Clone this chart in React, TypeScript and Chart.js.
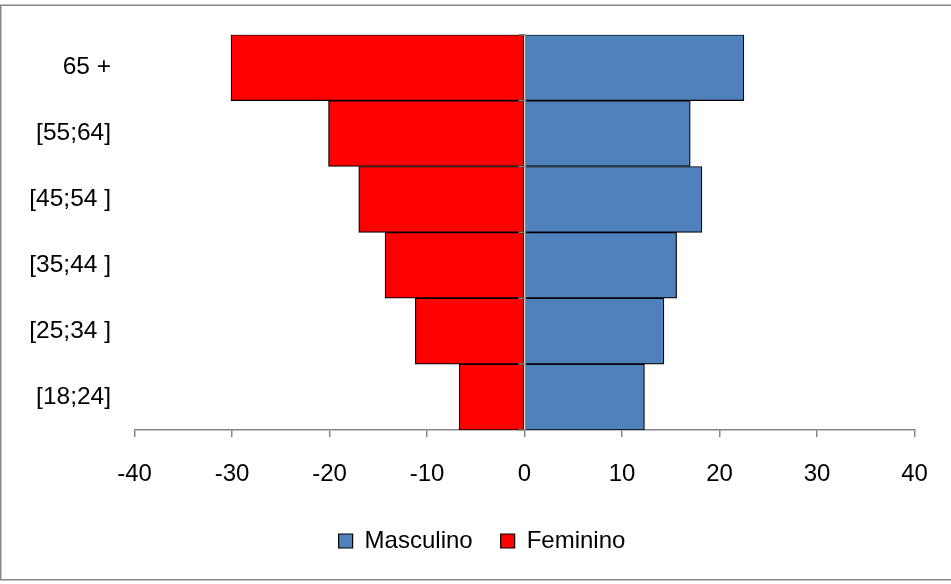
import React, { useEffect, useRef } from "react";
import { Chart, registerables } from "chart.js";

Chart.register(...registerables);

const ageGroups = ["65 +", "[55;64]", "[45;54 ]", "[35;44 ]", "[25;34 ]", "[18;24]"];
const masculinoValues = [22.5, 17.0, 18.2, 15.6, 14.3, 12.3];
const femininoValues = [-30.1, -20.1, -17.0, -14.3, -11.2, -6.7];
const xMin = -40;
const xMax = 40;
const xStep = 10;

const FONT = "'Liberation Sans', Arial, sans-serif";
const AXIS_GRAY = "#868686";

const frameAndZeroAxis = {
  id: "frameAndZeroAxis",
  beforeDraw(chart: any) {
    const ctx = chart.ctx;
    ctx.save();
    ctx.fillStyle = "#ffffff";
    ctx.fillRect(0, 0, chart.width, chart.height);
    ctx.strokeStyle = AXIS_GRAY;
    ctx.lineWidth = 1.5;
    ctx.strokeRect(0.75, 5.25, chart.width + 2, chart.height - 9.5);
    ctx.restore();
  },
  afterDatasetsDraw(chart: any) {
    const ctx = chart.ctx;
    const xs = chart.scales.x;
    const ys = chart.scales.y;
    const area = chart.chartArea;
    const x0 = Math.round(xs.getPixelForValue(0)) + 0.5;
    ctx.save();
    ctx.strokeStyle = AXIS_GRAY;
    ctx.lineWidth = 1.5;
    ctx.beginPath();
    ctx.moveTo(x0, area.top);
    ctx.lineTo(x0, area.bottom);
    for (let i = 0; i <= ageGroups.length; i++) {
      const y = ys.getPixelForValue(i - 0.5);
      ctx.moveTo(x0 - 7, y);
      ctx.lineTo(x0, y);
    }
    ctx.stroke();
    ctx.restore();
  },
};

export default function App() {
  const canvasRef = useRef<HTMLCanvasElement | null>(null);

  useEffect(() => {
    document.body.style.margin = "0";
    const canvas = canvasRef.current;
    if (!canvas) return;
    Chart.defaults.color = "#000000";
    const chart = new Chart(canvas, {
      type: "bar",
      data: {
        labels: ageGroups,
        datasets: [
          {
            label: "Masculino",
            data: masculinoValues,
            backgroundColor: "#4F81BD",
            borderColor: "#000000",
            borderWidth: 1.2,
            borderSkipped: false,
            barPercentage: 1,
            categoryPercentage: 1,
          },
          {
            label: "Feminino",
            data: femininoValues,
            backgroundColor: "#FF0000",
            borderColor: "#000000",
            borderWidth: 1.2,
            borderSkipped: false,
            barPercentage: 1,
            categoryPercentage: 1,
          },
        ],
      },
      options: {
        indexAxis: "y",
        responsive: false,
        animation: false,
        layout: { padding: { left: 13, right: 0, top: 34.7, bottom: 21 } },
        scales: {
          x: {
            stacked: true,
            min: xMin,
            max: xMax,
            ticks: {
              stepSize: xStep,
              font: { family: FONT, size: 24 },
              color: "#000",
              padding: 22.5,
            },
            grid: {
              drawOnChartArea: false,
              drawTicks: true,
              tickLength: 7,
              color: AXIS_GRAY,
              lineWidth: 1.5,
            },
            border: { display: true, color: AXIS_GRAY, width: 1.5 },
            afterFit: (s: any) => {
              s.height = 71;
            },
          },
          y: {
            stacked: true,
            ticks: {
              font: { family: FONT, size: 24.5 },
              color: "#000",
              padding: 23.5,
            },
            grid: { display: false, drawTicks: false },
            border: { display: false },
            afterFit: (s: any) => {
              s.width = 121.5;
              s.paddingTop = 0;
              s.paddingBottom = 0;
            },
          },
          yRightSpacer: {
            axis: "y",
            type: "category",
            position: "right",
            display: true,
            ticks: { display: false },
            grid: { display: false, drawTicks: false },
            border: { display: false },
            afterFit: (s: any) => {
              s.width = 36.5;
              s.paddingTop = 0;
              s.paddingBottom = 0;
            },
          },
        },
        plugins: {
          legend: {
            position: "bottom",
            labels: {
              font: { family: FONT, size: 24 },
              color: "#000",
              boxWidth: 14,
              boxHeight: 14,
              padding: 28,
            },
          },
          tooltip: { enabled: false },
        },
      },
      plugins: [frameAndZeroAxis],
    } as any);
    return () => chart.destroy();
  }, []);

  return (
    <div style={{ position: "absolute", left: 0, top: 0, width: 951, height: 584 }}>
      <canvas ref={canvasRef} width={951} height={584} />
    </div>
  );
}
